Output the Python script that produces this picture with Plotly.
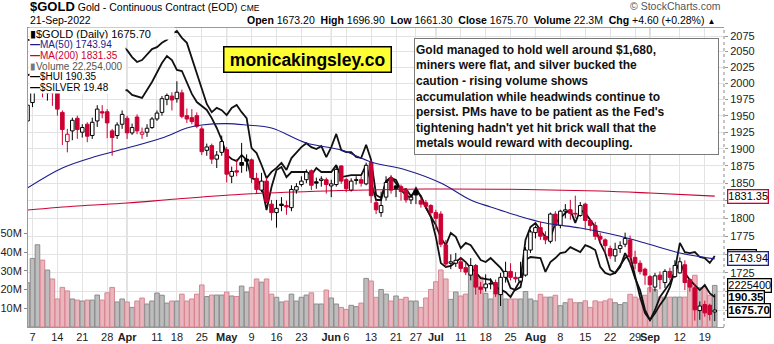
import math
import pandas as pd
import plotly.graph_objects as go

# ---------------- data ----------------
holidays = {"2022-04-15", "2022-05-30", "2022-06-20", "2022-07-04", "2022-09-05"}
dates = [d.strftime("%Y-%m-%d") for d in pd.bdate_range("2022-03-04", "2022-09-21")
         if d.strftime("%Y-%m-%d") not in holidays]

opens = [1942,1970,1996,2052,1985,1998,1985,1955,1911,1927,
         1946,1925,1937,1920,1942,1956,1956,1927,1920,1937,
         1946,1924,1948,1922,1925,1932,1945,1955,1975,1980,
         1976,1985,1950,1947,1950,1930,1898,1905,1885,1895,
         1899,1860,1868,1880,1885,1884,1857,1840,1853,1820,
         1808,1820,1818,1815,1840,1848,1855,1868,1852,1854,
         1855,1846,1848,1875,1855,1840,1855,1855,1849,1880,
         1822,1808,1830,1858,1846,1845,1840,1826,1840,1825,
         1822,1818,1808,1806,1763,1738,1738,1740,1732,1722,
         1735,1706,1705,1710,1712,1696,1719,1727,1719,1714,
         1722,1756,1780,1787,1775,1768,1806,1790,1810,1812,
         1807,1804,1820,1797,1790,1775,1770,1758,1748,1758,
         1764,1770,1746,1738,1730,1720,1706,1722,1712,1727,
         1720,1725,1736,1716,1705,1675,1683,1682,1673.2]
highs = [1974,2002,2078,2056,2009,2003,1987,1958,1930,1947,
         1950,1937,1940,1947,1966,1966,1960,1930,1940,1958,
         1950,1938,1952,1932,1937,1948,1958,1980,1984,1986,
         2003,1990,1961,1960,1955,1934,1908,1908,1897,1920,
         1903,1874,1885,1909,1892,1886,1865,1865,1858,1826,
         1826,1830,1825,1847,1850,1860,1870,1870,1858,1860,
         1858,1855,1875,1876,1858,1857,1860,1860,1880,1883,
         1826,1838,1860,1862,1848,1848,1843,1833,1845,1830,
         1826,1820,1812,1810,1770,1750,1752,1745,1739,1745,
         1737,1713,1723,1718,1716,1725,1740,1738,1726,1740,
         1760,1784,1790,1795,1782,1808,1810,1812,1820,1826,
         1832,1823,1822,1799,1795,1780,1772,1762,1766,1768,
         1780,1776,1755,1742,1732,1722,1725,1727,1730,1732,
         1742,1746,1742,1718,1710,1687,1688,1684,1696.9]
lows = [1936,1963,1989,1978,1973,1965,1950,1906,1895,1913,
        1915,1917,1910,1915,1933,1946,1916,1890,1915,1930,
        1915,1921,1922,1915,1918,1930,1942,1950,1966,1958,
        1970,1946,1939,1937,1931,1891,1890,1878,1872,1890,
        1851,1850,1860,1865,1867,1850,1836,1837,1821,1797,
        1787,1810,1805,1810,1835,1845,1850,1840,1842,1845,
        1835,1830,1845,1849,1837,1838,1848,1845,1847,1822,
        1806,1802,1825,1835,1830,1825,1822,1820,1820,1815,
        1814,1804,1784,1760,1733,1730,1733,1726,1722,1715,
        1696,1697,1700,1703,1693,1681,1712,1715,1712,1712,
        1720,1752,1772,1770,1764,1765,1768,1786,1800,1798,
        1800,1802,1784,1782,1770,1765,1752,1744,1740,1752,
        1760,1736,1730,1723,1709,1699,1700,1703,1705,1715,
        1718,1724,1702,1700,1662,1663,1667,1662,1661.3]
closes = [1966,1995,2043,1988,1997,1985,1960,1929,1922,1943,
          1929,1932,1919,1940,1960,1954,1939,1917,1936,1952,
          1924,1932,1927,1925,1931,1945,1954,1976,1981,1974,
          1986,1949,1945,1941,1934,1896,1903,1885,1891,1911,
          1863,1867,1866,1876,1882,1858,1841,1853,1824,1808,
          1814,1818,1816,1841,1845,1853,1866,1847,1850,1856,
          1848,1849,1870,1853,1842,1853,1854,1850,1876,1832,
          1812,1818,1851,1840,1842,1838,1826,1830,1833,1820,
          1817,1808,1800,1764,1737,1740,1742,1731,1726,1735,
          1706,1703,1710,1711,1697,1719,1727,1719,1717,1719,
          1756,1781,1787,1775,1770,1806,1790,1810,1812,1807,
          1806,1818,1797,1790,1775,1771,1762,1748,1757,1762,
          1772,1747,1738,1727,1722,1709,1721,1716,1727,1719,
          1735,1740,1712,1706,1676,1681,1672,1670,1675.7]
volume_m = [23.7,36.7,44,35.8,30.5,25.7,15,21.2,19.3,15,
            14.4,13.9,14.4,14.4,17.1,14.4,18.3,21.2,13.4,15,
            13.4,10.5,13.9,15.5,12.3,13.9,18.2,17,12.8,13.9,
            13.9,17.6,13.9,15,17.6,22.5,16.3,17.1,17.1,17.1,
            18.7,16.6,16.3,21.9,18.7,21.2,25.7,24,25.7,17.6,
            15.9,13.4,13.9,17.6,13.9,15.9,17.1,18.3,12.3,12.3,
            19.8,15.5,12.3,10.5,9.4,11.6,10.9,12.8,26,24.6,
            15.9,20.1,17.6,13.9,16.6,14.8,15.9,13.9,13.9,10.5,
            15.5,20.1,24.2,30.5,25.7,14.8,18.7,16.6,17.6,28.7,
            24.2,26.7,18,15,18,20,15,15,15,15,
            19,15,14,17.5,16,16,17,11.4,13,15,
            13,13,14,10.5,14,13.4,14,15,13,12,
            13,17.5,16,15,17,21,20,16,16,16,
            16,16,16,25,27.7,21,21,17,22.254]

ma50_bar = [0,7,14,20,27,32,35,40,44,49,56,63,69,76,83,89,93,98,104,111,118,124,131,138]
ma50_val = [1843.0,1872.0,1889.6,1901.4,1916.3,1931.3,1935.9,1938.0,1935.9,1931.3,1908.9,1898.5,
            1880.8,1869.1,1850.2,1825.8,1815.9,1804.6,1793.4,1786.4,1776.7,1765.6,1751.9,1743.94]
ma200_bar = [0,10,20,30,44,60,80,100,115,125,138]
ma200_val = [1811.6,1817.3,1821.6,1827.3,1834.4,1838.7,1841.6,1840.9,1838.7,1835.8,1831.35]

silver_bar = [0,5,10,15,19,20,21,22,23,24,25,26,27,28,29,30,31,32,33,34,35,36,37,38,39,40,41,42,43,44,
              45,46,47,48,49,50,51,52,53,54,55,56,57,58,59,60,61,62,63,64,65,66,67,68,69,70,71,72,73,74,
              75,76,77,78,79,80,81,82,83,84,85,86,87,88,89,90,91,92,93,95,96,97,98,99,100,101,103,104,105,
              106,107,108,109,111,112,113,114,115,116,117,118,119,120,121,122,123,124,125,126,127,128,129,
              130,131,132,133,134,135,136,137,138]
silver_val = [26.03,25.97,25.87,25.97,25.84,25.72,25.51,25.36,25.42,25.57,25.75,25.81,25.94,26.03,26.21,
              26.30,26.09,25.94,25.48,24.97,24.57,24.09,23.84,23.97,23.90,23.75,23.97,24.06,23.84,23.66,
              22.75,22.60,22.24,21.84,22.03,22.15,22.30,22.09,22.45,22.63,22.78,22.90,22.78,22.72,22.81,
              22.48,22.78,23.18,22.69,22.63,22.63,22.48,22.45,22.85,22.39,21.33,21.24,21.75,21.87,21.69,
              21.48,21.51,21.30,21.48,21.30,20.94,20.66,20.42,20.03,19.81,20.18,20.06,19.72,19.88,19.81,
              19.57,19.36,19.30,19.42,19.12,18.91,18.51,18.45,18.54,19.36,19.45,19.42,19.00,19.30,
              19.42,19.57,19.60,19.75,19.60,19.81,19.75,19.66,19.15,18.97,18.91,18.97,19.15,19.57,19.27,
              18.81,18.45,17.85,17.54,17.75,18.00,18.21,18.54,19.06,19.88,19.60,19.57,19.60,19.45,19.42,
              19.27,19.48]
hui_bar = [0,5,10,14,17,20,21,23,25,27,28,29,30,31,32,33,34,35,36,37,38,39,40,41,42,43,44,45,46,47,48,49,
           50,51,52,53,55,56,57,58,59,61,62,63,65,67,68,69,70,71,72,73,74,75,76,77,78,79,80,81,82,83,84,85,
           86,87,88,89,90,91,93,94,96,97,99,100,101,102,104,105,106,108,109,110,111,112,114,115,116,117,118,
           119,120,121,122,123,124,125,126,127,128,129,130,131,132,133,134,135,136,137,138]
hui_val = [299.8,302.3,297.4,294.4,291.9,292.4,290.0,288.5,296.4,305.7,309.2,307.2,302.3,301.8,296.4,290.5,
           286.5,284.5,282.6,278.6,273.7,267.8,260.4,258.4,257.4,260.4,257.9,249.0,248.1,245.6,233.3,244.6,
           253.0,254.5,249.5,252.0,252.0,252.0,250.5,254.0,252.0,252.0,255.4,249.5,250.5,250.5,255.4,247.1,
           238.2,238.2,247.1,249.0,248.1,243.1,240.7,239.2,244.1,239.7,234.7,229.8,220.0,207.1,205.2,205.7,
           207.6,209.6,207.6,204.7,202.7,199.7,198.8,195.3,192.8,190.4,198.8,218.5,224.9,226.9,220.0,219.5,
           226.9,231.8,233.3,226.9,233.3,231.8,224.9,217.0,212.1,203.7,202.2,206.2,209.6,211.1,200.2,190.4,
           182.5,179.0,184.0,190.4,193.8,197.3,202.7,207.6,202.2,198.8,196.3,193.8,196.3,192.3,190.35]

tick_dates = ["2022-03-07","2022-03-14","2022-03-21","2022-03-28","2022-04-01","2022-04-11","2022-04-18",
              "2022-04-25","2022-05-02","2022-05-09","2022-05-16","2022-05-23","2022-06-01","2022-06-06",
              "2022-06-13","2022-06-21","2022-06-27","2022-07-01","2022-07-11","2022-07-18","2022-07-25",
              "2022-08-01","2022-08-08","2022-08-15","2022-08-22","2022-08-29","2022-09-01","2022-09-12",
              "2022-09-19"]
tick_text = ["7","14","21","28","Apr","11","18","25","May","9","16","23","Jun","6","13","21","27",
             "Jul","11","18","25","Aug","8","15","22","29","Sep","12","19"]
price_ticks = [1675,1700,1725,1750,1775,1800,1825,1850,1875,1900,1925,1950,1975,2000,2025,2050,2075]
# tick labels hidden behind the value tags on the right edge
price_labels_hidden = [1675, 1700, 1750, 1825]
vol_ticks_m = [10,20,30,40,50]

# ---------------- styling ----------------
RED = "#cc0033"
NAVY = "#1c1c8c"
FONT = "Liberation Sans"
W, H = 774, 344
ML, MR, MT, MB = 28, 50, 28, 17
PW, PH = W - ML - MR, H - MT - MB


def px(x):
    return (x - ML) / PW


def py(y):
    return (H - MB - y) / PH


n = len(closes)
bars = list(range(n))
pos = {d: i for i, d in enumerate(dates)}
up_prev = [True] + [closes[i] >= closes[i - 1] for i in range(1, n)]
edge = ["#000000" if u else RED for u in up_prev]
fill = ["#ffffff" if closes[i] > opens[i] else edge[i] for i in bars]
body_lo = [min(o, c) for o, c in zip(opens, closes)]
body_hi = [max(o, c) for o, c in zip(opens, closes)]
body_h = [max(h - l, 0.9) for h, l in zip(body_hi, body_lo)]
vol_fill = ["#bdbdbd" if u else "#e9b6be" for u in up_prev]
vol_edge = ["#8c8c8c" if u else "#d98592" for u in up_prev]

fig = go.Figure()
fig.add_trace(go.Bar(x=bars, y=[v * 1e6 for v in volume_m], width=0.92, yaxis="y",
                     marker=dict(color=vol_fill, line=dict(color=vol_edge, width=1)), hoverinfo="skip"))
fig.add_trace(go.Scatter(x=silver_bar, y=silver_val, yaxis="y2", mode="lines",
                         line=dict(color="#111111", width=1.8), hoverinfo="skip"))
fig.add_trace(go.Scatter(x=hui_bar, y=hui_val, yaxis="y3", mode="lines",
                         line=dict(color="#111111", width=1.8), hoverinfo="skip"))
fig.add_trace(go.Scatter(x=ma200_bar, y=ma200_val, yaxis="y4", mode="lines",
                         line=dict(color=RED, width=1.1, shape="spline"), hoverinfo="skip"))
fig.add_trace(go.Scatter(x=ma50_bar, y=ma50_val, yaxis="y4", mode="lines",
                         line=dict(color=NAVY, width=1.1, shape="spline"), hoverinfo="skip"))

for col in ("#000000", RED):
    wx, wy = [], []
    for i in bars:
        if edge[i] != col:
            continue
        wx += [i, i, None, i, i, None]
        wy += [body_hi[i], highs[i], None, lows[i], body_lo[i], None]
    fig.add_trace(go.Scatter(x=wx, y=wy, yaxis="y4", mode="lines",
                             line=dict(color=col, width=1), hoverinfo="skip"))

fig.add_trace(go.Bar(x=bars, y=body_h, base=body_lo, width=0.72, yaxis="y4",
                     marker=dict(color=fill, line=dict(color=edge, width=1)), hoverinfo="skip"))

tickvals = [pos[d] for d in tick_dates]
ticktext = [f"<b>{t}</b>" if t.isalpha() else t for t in tick_text]

shapes = []
for v, t in zip(tickvals, tick_text):
    if t.isalpha():
        shapes.append(dict(type="line", xref="x", yref="paper", x0=v, x1=v, y0=0, y1=1,
                           line=dict(color="#b5b5b5", width=1), layer="below"))
shapes.append(dict(type="line", xref="paper", yref="paper", x0=1, x1=1, y0=0, y1=1,
                   line=dict(color="#8a8a8a", width=1, dash="dot")))

ann = []
# header
ann.append(dict(xref="paper", yref="paper", x=px(28), y=py(6.5), xanchor="left", yanchor="middle",
                showarrow=False, font=dict(family=FONT, size=10.5, color="#000"),
                text='<span style="font-size:13px;font-weight:bold">$GOLD</span> Gold - Continuous Contract (EOD) '
                     '<span style="font-size:8.5px">CME</span>'))
ann.append(dict(xref="paper", yref="paper", x=px(28), y=py(20.5), xanchor="left", yanchor="middle",
                showarrow=False, font=dict(family=FONT, size=10.5, color="#000"), text="21-Sep-2022"))
ann.append(dict(xref="paper", yref="paper", x=px(717), y=py(20.5), xanchor="right", yanchor="middle",
                showarrow=False, font=dict(family=FONT, size=10.5, color="#000"),
                text="<b>Open</b> 1673.20  <b>High</b> 1696.90  <b>Low</b> 1661.30  <b>Close</b> 1675.70  "
                     "<b>Volume</b> 22.3M  <b>Chg</b> +4.60 (+0.28%) <span style='font-size:8px'>▲</span>"))
ann.append(dict(xref="paper", yref="paper", x=px(723), y=py(6), xanchor="right", yanchor="middle",
                showarrow=False, font=dict(family=FONT, size=10.5, color="#555"), text="© StockCharts.com"))

# legend rows
rows = [
    ('<span style="color:#000">▮</span>$GOLD (Daily) 1675.70', "#000", 11, 144, 33.5),
    ('<span style="color:%s"><b>—</b></span>MA(50) 1743.94' % NAVY, NAVY, 10, 95, 45),
    ('<span style="color:%s"><b>—</b></span>MA(200) 1831.35' % RED, RED, 10, 95, 55.5),
    ('<span style="color:#777">▮</span>Volume 22,254,000', "#555", 10, 95, 66),
    ('<b>—</b>$HUI 190.35', "#000", 10, 95, 76.5),
    ('<b>—</b>$SILVER 19.48', "#000", 10, 95, 87),
]
for txt, col, sz, w, yy in rows:
    ann.append(dict(xref="paper", yref="paper", x=px(29), y=py(yy), xanchor="left", yanchor="middle",
                    showarrow=False, text=txt, align="left", width=w, height=11,
                    font=dict(family=FONT, size=sz, color=col), bgcolor="white", borderpad=0))

# logo
ann.append(dict(xref="paper", yref="paper", x=px(307.5), y=py(59.5), xanchor="center", yanchor="middle",
                showarrow=False, text="<b>monicakingsley.co</b>", width=164, height=22,
                font=dict(family=FONT, size=17.5, color="#000"), bgcolor="#ffff33",
                bordercolor="#000", borderwidth=1.5, borderpad=1))

# comment box
comment = ("Gold managed to hold well around $1,680,<br>"
           "miners were flat, and silver bucked the<br>"
           "caution - rising volume shows<br>"
           "accumulation while headwinds continue to<br>"
           "persist. PMs have to be patient as the Fed's<br>"
           "tightening hadn't yet hit brick wall that the<br>"
           "metals would reward with decoupling.")
ann.append(dict(xref="paper", yref="paper", x=px(414), y=py(38), xanchor="left", yanchor="top",
                showarrow=False, text="<b>" + comment + "</b>", align="left", width=301, height=113,
                valign="middle", font=dict(family=FONT, size=12, color="#111"), bgcolor="white",
                bordercolor="#7a7a7a", borderwidth=1, borderpad=1))


def tag(text, yref, yval, border, bold=False):
    return dict(xref="paper", x=1, xanchor="left", xshift=3, yref=yref, y=yval, yanchor="middle",
                text=f"<b>{text}</b>" if bold else text, showarrow=False,
                font=dict(family=FONT, size=11.5 if bold else 11, color="#000"),
                bgcolor="white", bordercolor=border, borderwidth=1.3, borderpad=0)


ann.append(tag(f"{ma200_val[-1]:.2f}", "y4", math.log10(ma200_val[-1]), RED))
ann.append(tag(f"{silver_val[-1]:.2f}", "y2", silver_val[-1], "#000"))
ann.append(tag(f"{ma50_val[-1]:.2f}", "y4", math.log10(ma50_val[-1]), NAVY))
ann.append(tag("2225400", "y", volume_m[-1] * 1e6, "#000"))
ann.append(tag(f"{hui_val[-1]:.2f}", "y3", hui_val[-1], "#000", bold=True))
ann.append(tag(f"{closes[-1]:.2f}", "y4", math.log10(closes[-1]), "#000", bold=True))

axfont = dict(family=FONT, size=11, color="#222")
fig.update_layout(
    width=W, height=H, margin=dict(l=ML, r=MR, t=MT, b=MB, pad=0, autoexpand=False),
    paper_bgcolor="white", plot_bgcolor="white", showlegend=False, barmode="overlay",
    xaxis=dict(range=[0.1, 139.86], tickmode="array", tickvals=tickvals, ticktext=ticktext,
               tickangle=0, automargin=False, showgrid=True, gridcolor="#e3e3e3", gridwidth=1,
               ticks="", zeroline=False, showline=True, linecolor="#9a9a9a", mirror=True,
               tickfont=axfont),
    yaxis=dict(range=[0, 160e6], tickmode="array", tickvals=[v * 1e6 for v in vol_ticks_m],
               ticktext=[f"{v}M" for v in vol_ticks_m], showgrid=False, zeroline=False,
               automargin=False, ticks="outside", ticklen=3, tickcolor="#888", showline=True,
               linecolor="#9a9a9a", tickfont=axfont),
    yaxis2=dict(overlaying="y", range=[17.33, 26.39], visible=False, automargin=False),
    yaxis3=dict(overlaying="y", range=[175.6, 323.0], visible=False, automargin=False),
    yaxis4=dict(overlaying="y", side="right", type="log", automargin=False,
                range=[math.log10(1653.7), math.log10(2088.0)], tickmode="array",
                tickvals=price_ticks,
                ticktext=["" if p in price_labels_hidden else str(p) for p in price_ticks],
                showgrid=True, gridcolor="#e3e3e3", gridwidth=1, ticks="outside", ticklen=3,
                tickcolor="#999", zeroline=False, showline=False, tickfont=axfont),
    shapes=shapes, annotations=ann,
)

fig.write_html("out.html")
